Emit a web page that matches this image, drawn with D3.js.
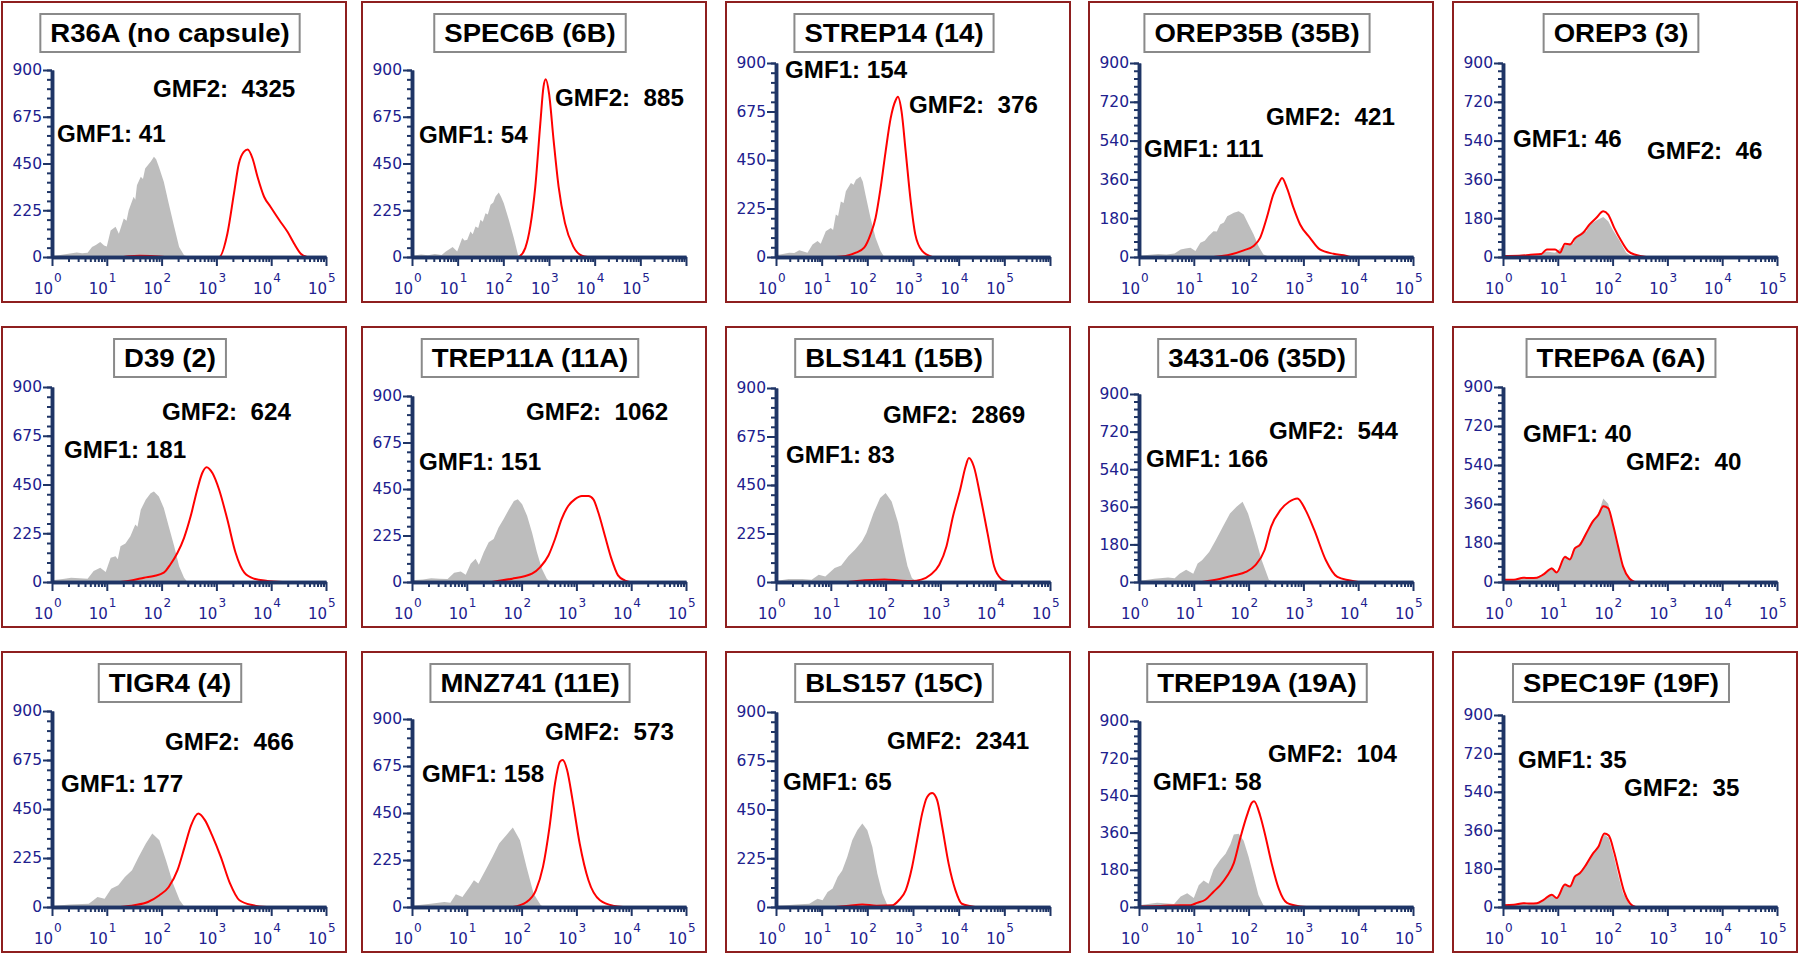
<!DOCTYPE html>
<html>
<head>
<meta charset="utf-8">
<script src="https://cdn.jsdelivr.net/npm/d3@7"></script>
<style>
  body { margin: 0; background: #fff; }
  svg { display: block; }
  text { white-space: pre; }
</style>
</head>
<body>
<div id="chart"></div>
<script>
// strains in reading order (row by row)
const strains = [
  "R36A (no capsule)", "SPEC6B (6B)", "STREP14 (14)", "OREP35B (35B)", "OREP3 (3)",
  "D39 (2)", "TREP11A (11A)", "BLS141 (15B)", "3431-06 (35D)", "TREP6A (6A)",
  "TIGR4 (4)", "MNZ741 (11E)", "BLS157 (15C)", "TREP19A (19A)", "SPEC19F (19F)"
];
const gmf1 = [41, 54, 154, 111, 46, 181, 151, 83, 166, 40, 177, 158, 65, 58, 35];
const gmf2 = [4325, 885, 376, 421, 46, 624, 1062, 2869, 544, 40, 466, 573, 2341, 104, 35];

// y tick step and number of x decades shown in each panel
const yStep = [225, 225, 225, 180, 180, 225, 225, 225, 180, 180, 225, 225, 225, 180, 180];
const decades = [5, 6, 6, 5, 5, 5, 5, 5, 5, 5, 5, 5, 6, 5, 5];
const yMax = 900;
const xExponents = [0, 1, 2, 3, 4, 5];

// histograms: [log10 fluorescence, count]
const grayR36A = [[0,5],[0.15,10],[0.3,16],[0.45,22],[0.55,18],[0.65,20],[0.73,48],[0.8,58],[0.88,72],[0.95,55],[1.0,51],[1.07,128],[1.16,145],[1.22,112],[1.31,185],[1.36,175],[1.4,225],[1.49,290],[1.52,275],[1.55,345],[1.62,386],[1.66,375],[1.7,426],[1.8,458],[1.86,482],[1.9,470],[1.95,434],[2.04,362],[2.13,257],[2.23,145],[2.32,48],[2.41,8],[2.5,0]];
const redR36A = [[1.3,0],[1.4,4],[1.6,6],[1.8,5],[1.95,3],[2.1,0],[3.05,0],[3.2,112],[3.32,305],[3.41,450],[3.5,506],[3.57,517],[3.66,474],[3.75,386],[3.87,290],[3.99,241],[4.15,177],[4.3,120],[4.42,64],[4.54,16],[4.65,0]];

const graySPEC6B = [[0,6],[0.2,12],[0.35,8],[0.5,14],[0.65,10],[0.74,27],[0.8,35],[0.89,48],[0.99,27],[1.1,91],[1.15,80],[1.21,83],[1.28,123],[1.33,110],[1.39,147],[1.45,140],[1.5,179],[1.55,170],[1.61,211],[1.66,205],[1.72,251],[1.78,262],[1.83,291],[1.9,310],[1.95,290],[2.01,259],[2.12,179],[2.23,91],[2.32,11],[2.4,0]];
const redSPEC6B = [[2.34,0],[2.48,43],[2.59,147],[2.7,339],[2.81,643],[2.88,820],[2.93,855],[3.0,788],[3.1,564],[3.21,339],[3.35,163],[3.53,51],[3.72,6],[3.85,0]];

const graySTREP14 = [[0,8],[0.15,14],[0.29,20],[0.4,18],[0.51,31],[0.6,25],[0.69,20],[0.8,58],[0.91,74],[0.98,62],[1.09,120],[1.2,135],[1.25,125],[1.31,197],[1.36,190],[1.42,258],[1.48,250],[1.53,305],[1.64,343],[1.7,335],[1.75,358],[1.85,374],[1.9,350],[1.96,289],[2.07,181],[2.18,89],[2.29,28],[2.37,0]];
const redSTREP14 = [[1.31,0],[1.53,5],[1.75,20],[1.93,43],[2.07,105],[2.18,181],[2.29,320],[2.4,489],[2.51,643],[2.62,727],[2.67,743],[2.75,674],[2.84,489],[2.95,258],[3.05,105],[3.2,28],[3.42,0]];

const grayOREP35B = [[0,6],[0.2,10],[0.35,14],[0.5,12],[0.65,16],[0.76,35],[0.85,40],[0.94,43],[1.03,28],[1.12,66],[1.2,75],[1.27,97],[1.36,120],[1.42,118],[1.48,151],[1.55,160],[1.61,189],[1.68,198],[1.73,205],[1.82,212],[1.91,197],[2.0,151],[2.09,105],[2.18,51],[2.27,12],[2.39,0]];
const redOREP35B = [[1.36,0],[1.67,12],[1.91,31],[2.09,51],[2.21,89],[2.33,181],[2.45,289],[2.55,343],[2.61,366],[2.7,320],[2.82,228],[2.94,151],[3.12,89],[3.3,35],[3.55,15],[3.79,5],[3.85,0]];

const grayOREP3 = [[0,6],[0.2,8],[0.4,12],[0.6,10],[0.8,25],[0.95,20],[1.1,51],[1.22,66],[1.28,60],[1.34,97],[1.46,120],[1.52,118],[1.58,148],[1.7,169],[1.83,185],[1.92,166],[2.0,128],[2.13,74],[2.25,20],[2.37,0]];
const redOREP3 = [[0,5],[0.3,6],[0.5,10],[0.7,14],[0.8,35],[0.95,35],[1.04,20],[1.13,62],[1.22,58],[1.31,86],[1.46,112],[1.58,151],[1.7,181],[1.83,212],[1.92,197],[2.03,135],[2.16,74],[2.28,28],[2.43,9],[2.61,0]];

const grayD39 = [[0,8],[0.2,14],[0.35,20],[0.5,17],[0.65,15],[0.76,51],[0.88,66],[0.98,46],[1.07,112],[1.16,119],[1.2,105],[1.25,165],[1.34,178],[1.43,211],[1.52,265],[1.56,255],[1.62,334],[1.71,380],[1.8,410],[1.86,418],[1.95,395],[2.04,341],[2.13,257],[2.23,165],[2.32,73],[2.41,20],[2.47,0]];
const redD39 = [[1.25,0],[1.49,9],[1.68,20],[1.86,28],[2.04,43],[2.16,81],[2.29,135],[2.41,204],[2.53,303],[2.65,426],[2.74,502],[2.82,530],[2.93,502],[3.05,426],[3.2,288],[3.35,135],[3.51,43],[3.69,15],[3.93,5],[4.2,0]];

const grayTREP11A = [[0,8],[0.2,12],[0.35,18],[0.5,16],[0.65,14],[0.77,45],[0.89,51],[0.98,35],[1.07,88],[1.16,112],[1.22,83],[1.31,144],[1.4,192],[1.49,208],[1.58,264],[1.67,304],[1.77,352],[1.86,392],[1.93,400],[2.01,376],[2.1,320],[2.19,240],[2.28,144],[2.37,64],[2.46,16],[2.52,0]];
const redTREP11A = [[1.46,0],[1.83,16],[2.07,29],[2.19,40],[2.34,72],[2.49,128],[2.61,208],[2.73,304],[2.85,368],[2.97,400],[3.1,416],[3.22,416],[3.31,400],[3.4,336],[3.52,224],[3.64,112],[3.76,32],[3.88,8],[3.97,0]];

const grayBLS141 = [[0,5],[0.23,14],[0.48,14],[0.65,10],[0.78,34],[0.9,26],[1.07,65],[1.19,76],[1.32,119],[1.44,150],[1.57,189],[1.65,227],[1.78,320],[1.9,390],[2.0,413],[2.11,374],[2.23,274],[2.32,165],[2.4,73],[2.48,19],[2.57,0]];
const redBLS141 = [[1.3,0],[1.48,5],[1.98,12],[2.3,6],[2.48,5],[2.65,11],[2.82,34],[2.98,80],[3.11,165],[3.23,305],[3.36,428],[3.46,536],[3.52,575],[3.61,536],[3.73,397],[3.86,227],[3.98,73],[4.11,14],[4.23,0]];

const gray343106 = [[0,5],[0.28,16],[0.53,21],[0.65,18],[0.74,40],[0.86,59],[0.99,40],[1.07,88],[1.15,104],[1.28,144],[1.4,200],[1.53,264],[1.66,328],[1.78,360],[1.89,384],[1.99,328],[2.12,216],[2.24,104],[2.37,11],[2.45,0]];
const red343106 = [[1.15,0],[1.49,16],[1.74,32],[1.95,48],[2.12,80],[2.29,152],[2.41,264],[2.58,344],[2.74,384],[2.89,400],[3.04,344],[3.2,248],[3.41,104],[3.62,24],[3.83,8],[4.0,0]];

const grayTREP6A = [[0,15],[0.2,12],[0.37,23],[0.5,20],[0.62,23],[0.74,38],[0.89,69],[0.98,46],[1.13,123],[1.22,108],[1.31,162],[1.4,177],[1.52,231],[1.64,285],[1.74,315],[1.83,385],[1.92,361],[2.01,269],[2.1,162],[2.19,69],[2.31,15],[2.4,0]];
const redTREP6A = [[0,10],[0.2,10],[0.37,20],[0.5,18],[0.62,20],[0.74,35],[0.89,62],[0.98,44],[1.13,115],[1.22,104],[1.31,155],[1.4,170],[1.52,225],[1.64,280],[1.74,310],[1.83,350],[1.92,340],[2.01,262],[2.1,165],[2.19,72],[2.31,15],[2.4,0]];

const grayTIGR4 = [[0,5],[0.33,12],[0.67,15],[0.75,30],[0.83,46],[0.96,38],[1.08,84],[1.21,100],[1.33,138],[1.46,169],[1.58,230],[1.71,291],[1.83,337],[1.96,307],[2.08,215],[2.21,107],[2.33,31],[2.42,0]];
const redTIGR4 = [[1.25,0],[1.5,8],[1.75,23],[1.96,54],[2.13,92],[2.29,169],[2.42,276],[2.54,376],[2.67,429],[2.79,399],[2.92,330],[3.08,230],[3.25,107],[3.42,31],[3.67,8],[3.92,0]];

const grayMNZ741 = [[0,6],[0.34,16],[0.59,24],[0.7,20],[0.8,61],[0.92,48],[1.05,96],[1.13,128],[1.21,112],[1.34,176],[1.47,240],[1.59,304],[1.72,344],[1.84,381],[1.97,320],[2.09,192],[2.22,64],[2.35,8],[2.42,0]];
const redMNZ741 = [[1.84,0],[2.09,24],[2.26,80],[2.39,192],[2.51,384],[2.61,592],[2.7,696],[2.75,704],[2.83,656],[2.93,512],[3.06,304],[3.22,128],[3.43,32],[3.69,5],[3.85,0]];

const grayBLS157 = [[0,5],[0.44,11],[0.73,15],[0.91,38],[1.02,31],[1.13,69],[1.24,85],[1.35,138],[1.45,169],[1.56,231],[1.67,308],[1.78,354],[1.89,385],[2.0,354],[2.11,277],[2.22,154],[2.33,62],[2.44,8],[2.51,0]];
const redBLS157 = [[1.3,0],[1.6,6],[1.89,12],[2.2,6],[2.55,8],[2.69,31],[2.84,77],[2.98,185],[3.09,308],[3.2,431],[3.31,508],[3.42,526],[3.53,492],[3.64,369],[3.78,200],[3.93,77],[4.07,15],[4.36,0]];

const grayTREP19A = [[0,8],[0.33,20],[0.64,15],[0.76,51],[0.88,66],[1.0,43],[1.09,105],[1.18,128],[1.27,112],[1.36,181],[1.48,228],[1.58,258],[1.67,305],[1.73,351],[1.82,354],[1.91,320],[2.0,243],[2.09,151],[2.18,58],[2.27,9],[2.34,0]];
const redTREP19A = [[0,3],[0.39,5],[0.76,9],[0.94,9],[1.06,20],[1.21,35],[1.36,74],[1.48,105],[1.61,151],[1.73,212],[1.85,335],[1.97,443],[2.06,505],[2.1,512],[2.21,443],[2.3,351],[2.42,212],[2.55,89],[2.7,20],[2.94,3],[3.05,0]];

const graySPEC19F = [[0,12],[0.2,10],[0.37,20],[0.5,17],[0.62,20],[0.74,35],[0.89,60],[0.98,42],[1.13,110],[1.22,98],[1.31,145],[1.4,160],[1.52,205],[1.64,255],[1.74,285],[1.85,340],[1.93,325],[2.02,240],[2.1,150],[2.19,65],[2.3,14],[2.4,0]];
const redSPEC19F = [[0,8],[0.2,10],[0.37,18],[0.5,16],[0.62,18],[0.74,33],[0.89,58],[0.98,42],[1.13,105],[1.22,96],[1.31,142],[1.4,158],[1.52,200],[1.64,250],[1.74,282],[1.85,345],[1.93,335],[2.03,255],[2.12,160],[2.21,72],[2.32,16],[2.42,0]];

const grayHists = [grayR36A, graySPEC6B, graySTREP14, grayOREP35B, grayOREP3,
  grayD39, grayTREP11A, grayBLS141, gray343106, grayTREP6A,
  grayTIGR4, grayMNZ741, grayBLS157, grayTREP19A, graySPEC19F];
const redHists = [redR36A, redSPEC6B, redSTREP14, redOREP35B, redOREP3,
  redD39, redTREP11A, redBLS141, red343106, redTREP6A,
  redTIGR4, redMNZ741, redBLS157, redTREP19A, redSPEC19F];

// layout (panel-relative pixels)
const W = 1800, H = 954;
const colLeft = [2, 362, 726, 1089, 1453];
const rowTop = [2, 327, 652];
const panelW = 344, panelH = 300;
const plotLeft = 50, plotRight = 324, plotZero = 255;
const plotTops = [68, 68, 61, 61, 61, 60, 69, 61, 67, 60, 59, 67, 60, 69, 63];
const gmf1Pos = [[55,140],[57,141],[59,76],[55,155],[60,145],[62,131],[57,143],[60,136],[57,140],[70,115],[59,140],[60,130],[57,138],[64,138],[65,116]];
const gmf2Pos = [[151,95],[193,104],[183,111],[177,123],[194,157],[160,93],[164,93],[157,96],[180,112],[173,143],[163,98],[183,88],[161,97],[179,110],[171,144]];

const axisColor = "#1f3566";
const labelColor = "#20208e";
const tickFont = "'DejaVu Sans', Verdana, sans-serif";
const boldFont = "'Liberation Sans', Arial, sans-serif";

const svg = d3.select("#chart").append("svg")
  .attr("width", W)
  .attr("height", H);

strains.forEach((name, i) => {
  const g = svg.append("g")
    .attr("transform", `translate(${colLeft[i % 5]}, ${rowTop[Math.floor(i / 5)]})`);

  // panel frame
  g.append("rect")
    .attr("width", panelW)
    .attr("height", panelH)
    .attr("fill", "#fff")
    .attr("stroke", "#8e1f1f")
    .attr("stroke-width", 2);

  // scales
  const x = d3.scaleLinear().domain([0, decades[i]]).range([plotLeft, plotRight]);
  const y = d3.scaleLinear().domain([0, yMax]).range([plotZero, plotTops[i]]);

  // gray filled histogram
  g.append("path")
    .datum(grayHists[i])
    .attr("fill", "#bdbdbd")
    .attr("d", d3.area().x(d => x(d[0])).y0(y(0)).y1(d => y(d[1])));

  // red outline histogram
  g.append("path")
    .datum(redHists[i])
    .attr("fill", "none")
    .attr("stroke", "#ff0000")
    .attr("stroke-width", 2)
    .attr("d", d3.line().x(d => x(d[0])).y(d => y(d[1])).curve(d3.curveMonotoneX));

  // y axis: minor + major ticks
  const yMinor = d3.range(0, yMax + 0.1, yStep[i] / 5);
  const yMajor = d3.range(0, yMax + 0.1, yStep[i]);
  const yMinorG = g.append("g")
    .attr("transform", `translate(${plotLeft}, 0)`)
    .call(d3.axisLeft(y).tickValues(yMinor).tickSize(5).tickSizeOuter(0).tickFormat(""));
  const yMajorG = g.append("g")
    .attr("transform", `translate(${plotLeft}, 0)`)
    .call(d3.axisLeft(y).tickValues(yMajor).tickSize(9).tickSizeOuter(0).tickPadding(1));
  yMajorG.selectAll("text")
    .attr("fill", labelColor)
    .style("font-family", tickFont)
    .style("font-size", "15.5px");

  // x axis: minor + major ticks
  const xMinor = [];
  d3.range(decades[i]).forEach(n => d3.range(2, 10).forEach(k => xMinor.push(n + Math.log10(k))));
  const xMajor = d3.range(0, decades[i] + 0.1, 1);
  const xMinorG = g.append("g")
    .attr("transform", `translate(0, ${plotZero})`)
    .call(d3.axisBottom(x).tickValues(xMinor).tickSize(5).tickSizeOuter(0).tickFormat(""));
  const xMajorG = g.append("g")
    .attr("transform", `translate(0, ${plotZero})`)
    .call(d3.axisBottom(x).tickValues(xMajor).tickSize(9).tickSizeOuter(0).tickFormat(""));

  [yMinorG, yMajorG, xMinorG, xMajorG].forEach(ax => {
    ax.select(".domain").attr("stroke", axisColor).attr("stroke-width", 3.5);
    ax.selectAll(".tick line").attr("stroke", axisColor).attr("stroke-width", 2);
  });

  // x tick labels 10^n
  const xl = g.append("g")
    .attr("fill", labelColor)
    .style("font-family", tickFont);
  xExponents.forEach(e => {
    xl.append("text")
      .attr("x", x(e) + 1)
      .attr("y", plotZero + 37)
      .attr("text-anchor", "end")
      .style("font-size", "15px")
      .text("10");
    xl.append("text")
      .attr("x", x(e) + 2)
      .attr("y", plotZero + 25)
      .style("font-size", "12px")
      .text(e);
  });

  // title box
  const tg = g.append("g");
  const tbox = tg.append("rect");
  const tt = tg.append("text")
    .attr("transform", `translate(168, 40) scale(1.06, 1)`)
    .attr("text-anchor", "middle")
    .style("font-family", boldFont)
    .style("font-weight", "bold")
    .style("font-size", "26px")
    .text(name);
  const tw = tt.node().getComputedTextLength() * 1.06;
  tbox.attr("x", 168 - tw / 2 - 10)
    .attr("y", 12)
    .attr("width", tw + 20)
    .attr("height", 38)
    .attr("fill", "#fff")
    .attr("stroke", "#8a8a8a")
    .attr("stroke-width", 2);

  // GMF annotations
  const gmfText = (pos, txt) => g.append("text")
    .attr("transform", `translate(${pos[0]}, ${pos[1]}) scale(1.05, 1)`)
    .style("font-family", boldFont)
    .style("font-weight", "bold")
    .style("font-size", "23px")
    .text(txt);
  gmfText(gmf1Pos[i], "GMF1: " + gmf1[i]);
  gmfText(gmf2Pos[i], "GMF2:  " + gmf2[i]);
});
</script>
</body>
</html>
